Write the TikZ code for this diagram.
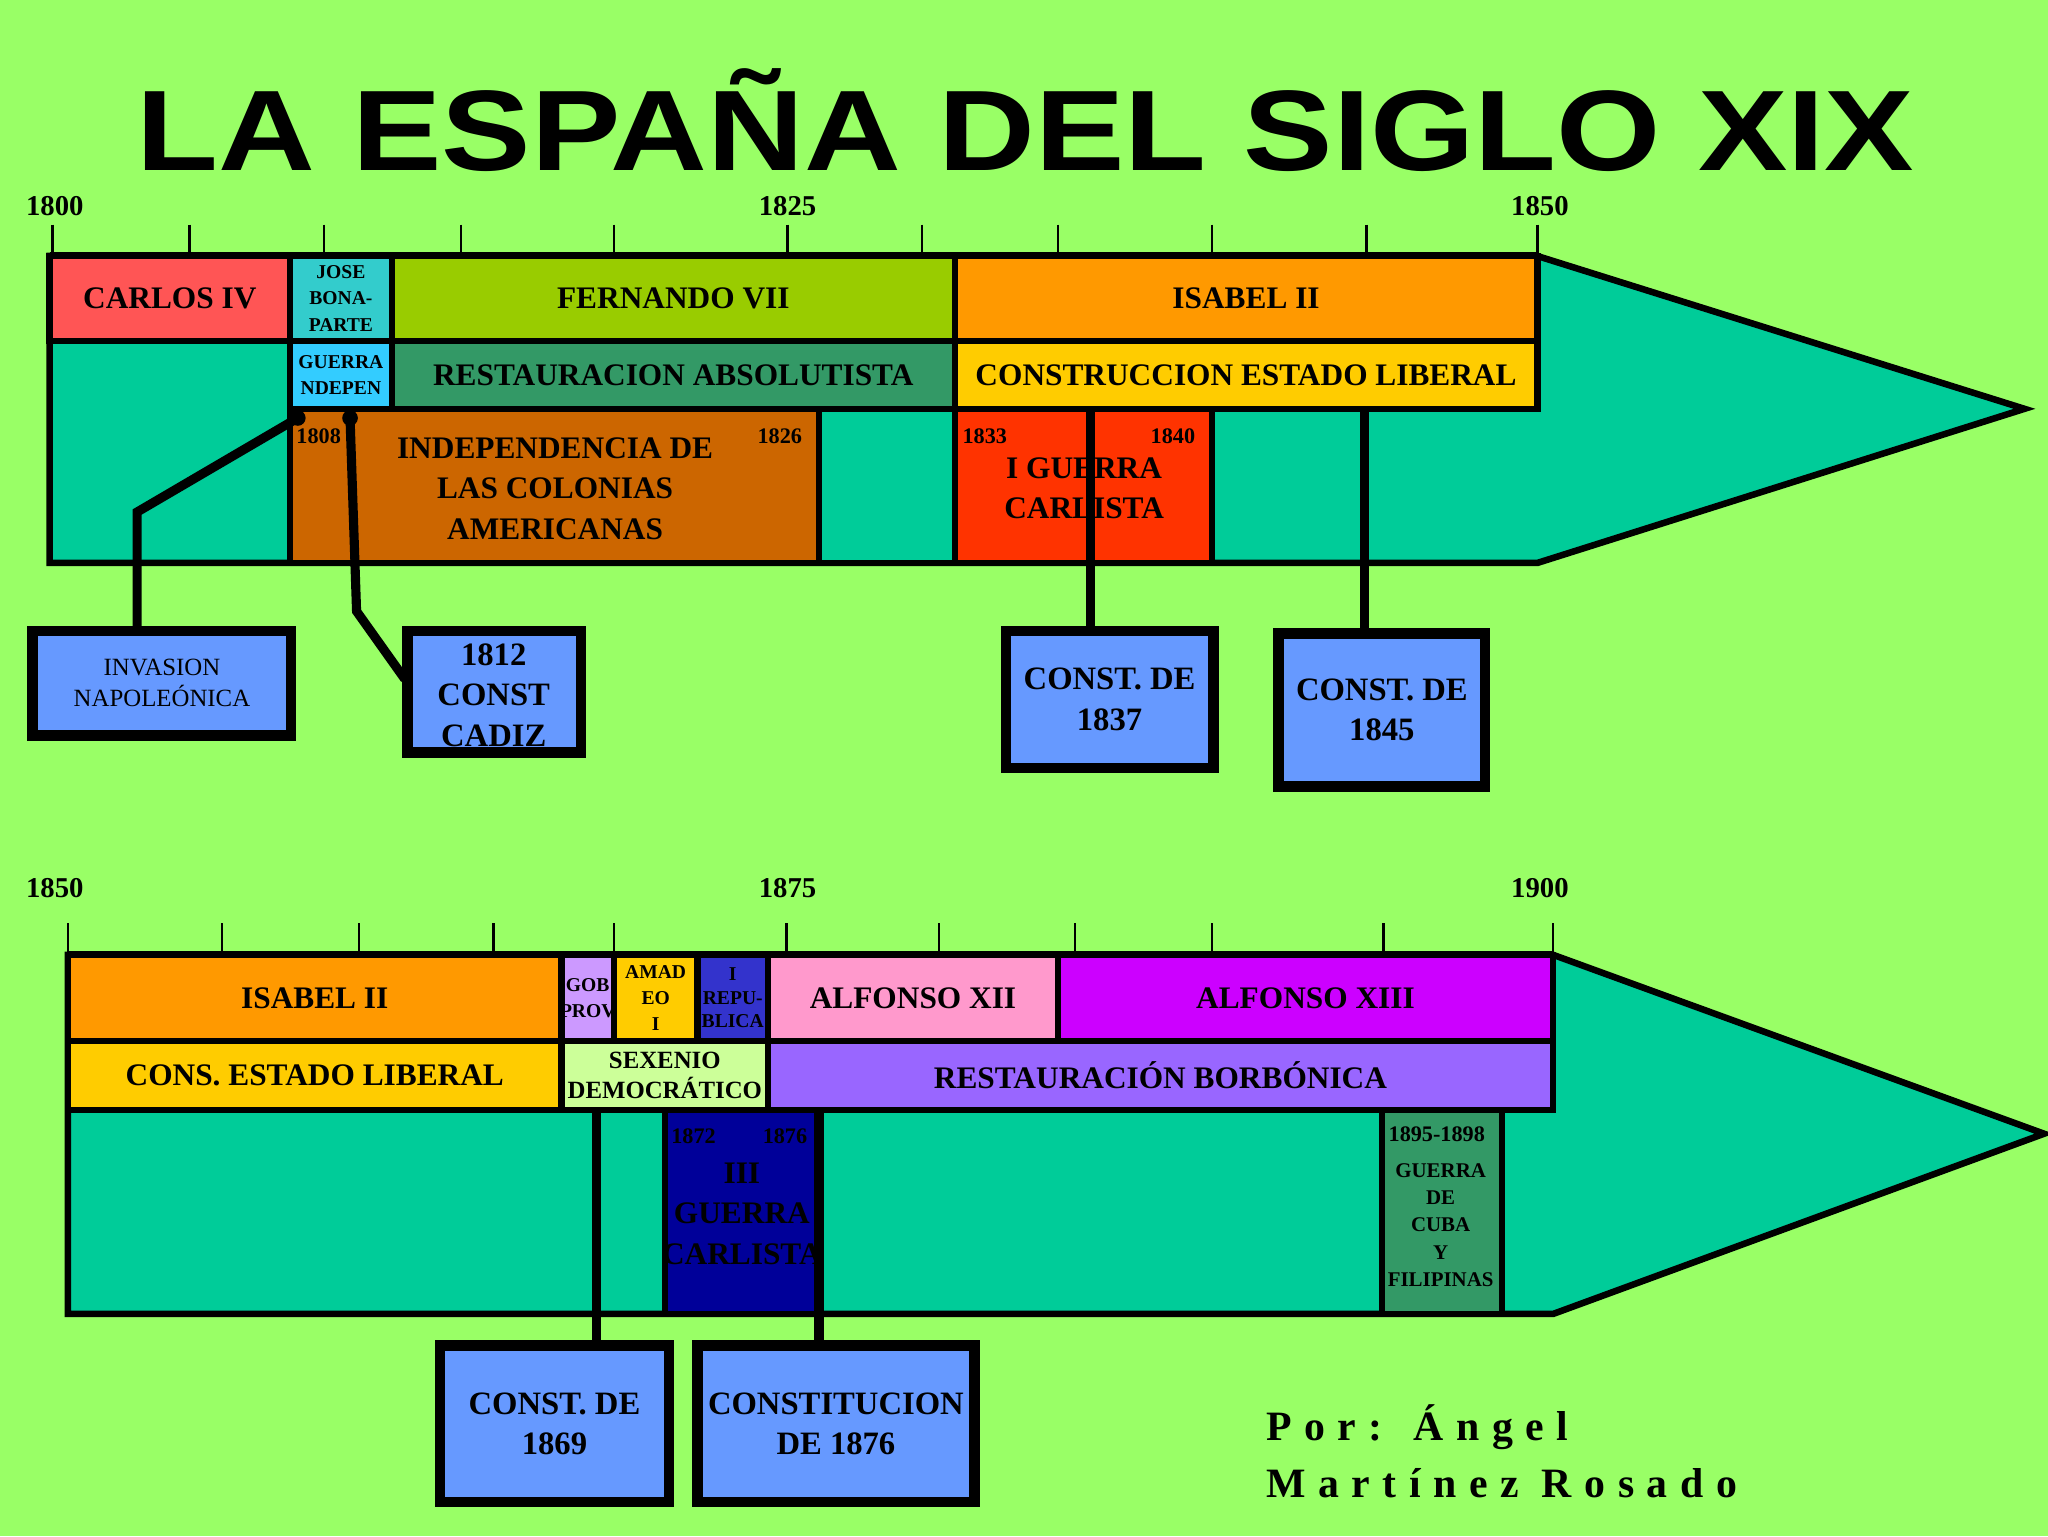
\documentclass[tikz,border=0pt]{standalone}
\usepackage{fontspec}
\setmainfont{Liberation Serif}
\newfontfamily\titlefont{Liberation Sans}
\definecolor{bg}{RGB}{153,255,102}
\definecolor{teal}{RGB}{0,204,153}
\definecolor{cred}{RGB}{255,85,85}
\definecolor{ccyan}{RGB}{51,204,204}
\definecolor{colive}{RGB}{153,204,0}
\definecolor{corange}{RGB}{255,153,0}
\definecolor{clblue}{RGB}{51,204,255}
\definecolor{cdgreen}{RGB}{51,153,102}
\definecolor{cyellow}{RGB}{255,204,0}
\definecolor{cbrown}{RGB}{204,102,0}
\definecolor{cred2}{RGB}{255,51,0}
\definecolor{clpurple}{RGB}{204,153,255}
\definecolor{cblue}{RGB}{51,51,204}
\definecolor{cpink}{RGB}{255,153,204}
\definecolor{cmag}{RGB}{204,0,255}
\definecolor{clgreen}{RGB}{204,255,153}
\definecolor{cpurple}{RGB}{153,102,255}
\definecolor{cnavy}{RGB}{0,0,153}
\definecolor{ibox}{RGB}{102,153,255}
\begin{document}
\begin{tikzpicture}[x=1pt,y=-1pt,
  cellbox/.style={draw=black,line width=5pt,outer sep=0pt,anchor=north west,inner sep=0pt,align=center,font=\bfseries\fontsize{24}{26}\selectfont},
  infobox/.style={draw=black,line width=8pt,outer sep=0pt,fill=ibox,anchor=north west,inner sep=0pt,align=center,font=\bfseries\fontsize{25}{31}\selectfont},
  conn/.style={line width=7pt},
  yr/.style={font=\bfseries\fontsize{22}{24}\selectfont,inner sep=1pt},
  syr/.style={font=\bfseries\fontsize{17}{18}\selectfont,inner sep=0pt}]
\newcommand\cellx[7]{\node[cellbox,fill=#6,minimum width=#4pt-#2pt,minimum height=#5pt-#3pt] (#1) at (#2,#3) {};
  \node[align=center,font=\bfseries\fontsize{24}{26}\selectfont] at (#1.center) {#7};}
\fill[bg] (0,0) rectangle (1568,1176);
\useasboundingbox (0,0) rectangle (1568,1176);
\node[inner sep=0pt] (title) at (785,92) {\resizebox{1360pt}{78pt}{\titlefont\bfseries LA ESPAÑA DEL SIGLO XIX}};
% ---------- top timeline
\foreach \x in {40,145,248,353,470,603,706,810,928,1046,1177} \draw[line width=2pt] (\x,172)--(\x,194);
\draw[line width=2pt] (38,194)--(1177,194);
\node[yr] at (42,158) {1800};
\node[yr] at (603,158) {1825};
\node[yr] at (1179,158) {1850};
\draw[line width=5pt,fill=teal] (38,196)--(1177,196)--(1550,313)--(1177,431)--(38,431)--cycle;
\cellx{c1}{38}{196}{222}{261}{cred}{CARLOS IV}
\node[cellbox,fill=ccyan,minimum width=78pt,minimum height=65pt] (jb) at (222,196) {};
\node[align=center,font=\bfseries\fontsize{15}{20}\selectfont] at (jb.center) {JOSE\\BONA-\\PARTE};
\cellx{fer}{300}{196}{731}{261}{colive}{FERNANDO VII}
\cellx{is1}{731}{196}{1177}{261}{corange}{ISABEL II}
\node[cellbox,fill=clblue,minimum width=78pt,minimum height=52pt] (gi) at (222,261) {};
\node[align=center,font=\bfseries\fontsize{15}{20}\selectfont,inner sep=0pt] at (gi.center) {GUERRA\\NDEPEN};
\cellx{ra}{300}{261}{731}{313}{cdgreen}{RESTAURACION ABSOLUTISTA}
\cellx{cel}{731}{261}{1177}{313}{cyellow}{CONSTRUCCION ESTADO LIBERAL}
\node[cellbox,fill=cbrown,minimum width=405pt,minimum height=118pt] (ind) at (222,313) {};
\node[align=center,font=\bfseries\fontsize{24}{31}\selectfont] at (425,374) {INDEPENDENCIA DE\\LAS COLONIAS\\AMERICANAS};
\node[cellbox,fill=teal,minimum width=104pt,minimum height=118pt] (t1) at (627,313) {};
\node[cellbox,fill=cred2,minimum width=197pt,minimum height=118pt] (gc) at (731,313) {};
\node[align=center,font=\bfseries\fontsize{24}{31}\selectfont] at (830,374) {I GUERRA\\CARLISTA};
\node[syr] at (244,334) {1808};
\node[syr] at (597,334) {1826};
\node[syr] at (754,334) {1833};
\node[syr] at (898,334) {1840};
% boxes
\node[infobox,minimum width=198pt,minimum height=80pt,font=\fontsize{19}{24}\selectfont] (inv) at (25,483) {INVASION\\NAPOLEÓNICA};
\node[infobox,minimum width=133pt,minimum height=93pt] (cad) at (312,483) {};
\node[font=\bfseries\fontsize{25}{31}\selectfont,align=center] at (378,532) {1812\\CONST\\CADIZ};
\node[infobox,minimum width=159pt,minimum height=105pt] (c37) at (770,483) {CONST. DE\\1837};
\node[infobox,minimum width=158pt,minimum height=117pt] (c45) at (979,485) {CONST. DE\\1845};
\fill (228,320) circle (6) coordinate (d1);
\fill (268,320) circle (6) coordinate (d2);
\draw[conn] (d1)--(105,392)--(105,483);
\draw[conn] (d2)--(273,468)--(310,520);
\draw[conn] (835,313)--(c37.north-|835,0);
\draw[conn] (1045,313)--(c45.north-|1045,0);
% ---------- bottom timeline
\foreach \x in {52,170,275,378,470,602,719,823,928,1059,1189} \draw[line width=2pt] (\x,707)--(\x,729);
\draw[line width=2pt] (52,729)--(1189,729);
\node[yr] at (42,680) {1850};
\node[yr] at (603,680) {1875};
\node[yr] at (1179,680) {1900};
\draw[line width=5pt,fill=teal] (52,731)--(1189,731)--(1565,868)--(1189,1006)--(52,1006)--cycle;
\cellx{is2}{52}{731}{430}{797}{corange}{ISABEL II}
\node[cellbox,fill=clpurple,minimum width=40pt,minimum height=66pt] (gp) at (430,731) {};
\node[font=\bfseries\fontsize{15}{20}\selectfont,align=center] at (gp.center) {GOB\\PROV};
\node[cellbox,fill=cyellow,minimum width=64pt,minimum height=66pt] (am) at (470,731) {};
\node[font=\bfseries\fontsize{15}{20}\selectfont,align=center] at (am.center) {AMAD\\EO\\I};
\node[cellbox,fill=cblue,minimum width=54pt,minimum height=66pt] (rep) at (534,731) {};
\node[font=\bfseries\fontsize{15}{18}\selectfont,align=center] at (rep.center) {I\\REPU-\\BLICA};
\cellx{a12}{588}{731}{810}{797}{cpink}{ALFONSO XII}
\cellx{a13}{810}{731}{1189}{797}{cmag}{ALFONSO XIII}
\cellx{cons}{52}{797}{430}{850}{cyellow}{CONS. ESTADO LIBERAL}
\node[cellbox,fill=clgreen,minimum width=158pt,minimum height=53pt] (sx) at (430,797) {};
\node[font=\bfseries\fontsize{19}{23}\selectfont,align=center] at (sx.center) {SEXENIO\\DEMOCRÁTICO};
\cellx{rb}{588}{797}{1189}{850}{cpurple}{RESTAURACIÓN BORBÓNICA}
\node[cellbox,fill=cnavy,minimum width=118pt,minimum height=156pt] (g3) at (509,850) {};
\node[align=center,font=\bfseries\fontsize{24}{31}\selectfont] at (568,929) {III\\GUERRA\\CARLISTA};
\node[syr] at (531,870) {1872};
\node[syr] at (601,870) {1876};
\node[cellbox,fill=cdgreen,minimum width=92pt,minimum height=156pt] (cu) at (1058,850) {};
\node[syr] at (1100,868) {1895-1898};
\node[align=center,font=\bfseries\fontsize{16}{21}\selectfont] at (1103,938) {GUERRA\\DE\\CUBA\\Y\\FILIPINAS};
\node[infobox,minimum width=175pt,minimum height=120pt] (c69) at (337,1030) {CONST. DE\\1869};
\node[infobox,minimum width=212pt,minimum height=120pt] (c76) at (534,1030) {CONSTITUCION\\DE 1876};
\draw[conn] (457,850)--(c69.north-|457,0);
\draw[conn] (627,850)--(c76.north-|627,0);
\node[anchor=west,align=left,font=\bfseries\fontsize{32}{44}\selectfont] (auth) at (966,1111) {\addfontfeature{LetterSpace=30}Por: Ángel\\\addfontfeature{LetterSpace=30}Martínez Rosado};
\end{tikzpicture}
\end{document}
